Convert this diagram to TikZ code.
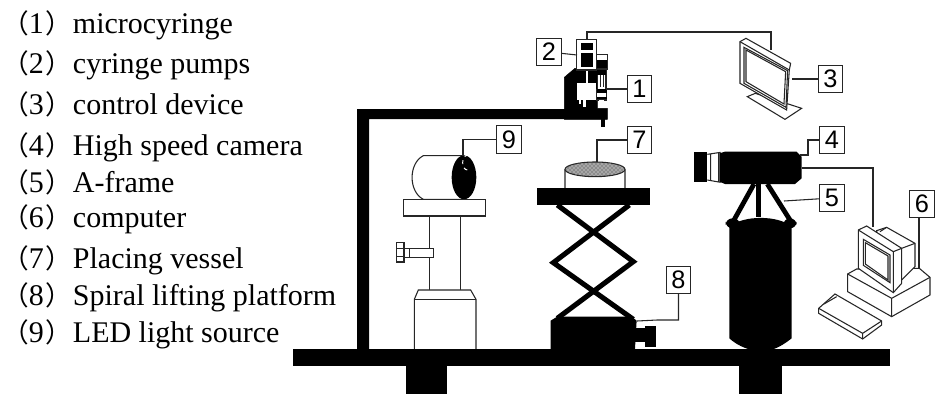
\documentclass[tikz,border=0pt]{standalone}
\usepackage{fontspec}
\setmainfont{Liberation Serif}
\newfontfamily\cjk{Noto Sans CJK SC}
\newfontfamily\labelfont{Liberation Sans}
\usepackage{xcolor}
\usetikzlibrary{patterns,calc}
\tikzset{
  blackpart/.style={fill=black,draw=black,line width=0.4pt},
  thinline/.style={draw=black!85,line width=0.8pt},
  whitepart/.style={fill=white,draw=black!85,line width=0.8pt},
  labelbox/.style={draw=black!85,fill=white,line width=0.8pt,inner sep=0pt,minimum width=18.5pt,minimum height=20.5pt,font=\labelfont\fontsize{19}{19}\selectfont},
  legendtext/.style={anchor=base west,inner sep=0pt,font=\fontsize{22.5}{24}\selectfont}
}

\begin{document}
\begin{tikzpicture}[x=0.75pt,y=-0.75pt]
    \useasboundingbox (0,0) rectangle (935,394);
    % Legend
    \foreach \n/\y/\t in {1/33/microcyringe,2/73/cyringe pumps,3/114/control device,4/155/High speed camera,5/192/A-frame,6/227/computer,7/268/Placing vessel,8/305/Spiral lifting platform,9/342/LED light source}
      \node[legendtext] (item\n) at (2,\y) {\makebox[53pt][l]{{\cjk\fontsize{20}{20}\selectfont （}\n\kern1pt{\cjk\fontsize{20}{20}\selectfont ）}}\t};
    % Bench and feet
    \fill (293,349) rectangle (890,366);
    \fill (406,366) rectangle (447,394);
    \fill (739,366) rectangle (782,394);
    % Support arm
    \fill (357,349) -- (357,109) -- (607,109) -- (607,119) -- (369,119) -- (369,349) -- cycle;
    % Syringe pump head
    \begin{scope}[shift={(520,0)},scale=0.3333]
      \draw[blackpart] (133,232) -- (165,205) -- (232,205) -- (232,325) -- (262,325) -- (262,358) -- (133,358) -- cycle;
      \fill (243,355) rectangle (254,382);
      \fill[white] (172,250) rectangle (228,300);
      \fill[white] (176,300) rectangle (182,312);
      \fill[white] (190,300) rectangle (198,322);
      \draw[white,line width=1.5pt] (200,210) -- (200,250);
      \draw[whitepart] (230,163) rectangle (262,207);
      \fill (232,180) rectangle (260,207);
      \draw[whitepart] (233,207) rectangle (258,268);
      \draw[thinline] (241,225) -- (241,262) (250,225) -- (250,262);
      \fill (232,210) rectangle (259,225);
      \draw[whitepart] (230,268) rectangle (260,300);
      \fill (230,268) rectangle (260,280);
      \fill (230,290) rectangle (260,298);
      \fill[white] (238,300) rectangle (252,325);
      \draw[whitepart] (170,118) rectangle (230,210);
      \fill (182,130) rectangle (218,150);
      \fill (182,160) rectangle (218,200);
    \end{scope}
    % Control device screen
    \begin{scope}[shift={(520,0)},scale=0.3333]
      \draw[thinline,fill=white] (682,290) -- (706,280) -- (845,325) -- (795,358) -- cycle;
      \draw[thinline,fill=white] (660,125) -- (678,115) -- (812,190) -- (808,210) -- (800,330) -- (660,250) -- cycle;
      \draw[thinline] (660,125) -- (808,210);
      \draw[thinline] (678,150) -- (797,215) -- (792,312) -- (678,245) -- cycle;
      \draw[thinline] (672,142) -- (803,212) -- (798,322) -- (672,250) -- cycle;
    \end{scope}
    % LED light source
    \begin{scope}[shift={(350,110)},scale=0.3333]
      \draw[thinline] (340,137) -- (220,137) .. controls (175,160) and (175,245) .. (220,268) -- (340,268);
      \fill (342,202) ellipse (37 and 66);
      \draw[white,dashed,line width=0.7pt] (352,180) arc (90:270:14 and 22);
      \draw[whitepart] (160,268) rectangle (406,318);
      \draw[thinline] (238,318) -- (238,540) (331,318) -- (331,540);
      \draw[whitepart] (162,415) rectangle (250,442);
      \draw[thinline] (178,415) -- (178,442);
      \draw[whitepart] (140,397) rectangle (162,456);
      \draw[thinline] (140,415) -- (162,415) (140,440) -- (162,440);
      \fill[white] (239,419) rectangle (248,438);
      \draw[whitepart] (193,717) -- (193,568) -- (205,540) -- (362,540) -- (378,568) -- (378,717);
      \draw[thinline] (193,568) -- (378,568);
    \end{scope}
    % Lifting platform and placing vessel
    \begin{scope}[shift={(350,110)},scale=0.3333]
      \draw[thinline] (645,178) -- (645,235) .. controls (690,252) and (780,252) .. (825,235) -- (825,178);
      \draw[thinline,fill=black!45] (735,178) ellipse (90 and 22);
      \fill[white,pattern=crosshatch dots,pattern color=white] (735,178) ellipse (88 and 20);
      \fill (562,235) rectangle (900,285);
      \draw[line width=3.8pt] (622,285) -- (850,455) -- (622,625);
      \draw[line width=3.8pt] (838,285) -- (610,458) -- (850,628);
      \fill (602,632) -- (622,620) -- (845,620) -- (860,632) -- (855,717) -- (602,717) -- cycle;
      \fill (850,655) rectangle (885,695);
      \fill (885,648) rectangle (918,712);
    \end{scope}
    % Camera on A-frame
    \begin{scope}[shift={(680,120)},scale=0.3333]
      \fill (43,95) rectangle (82,187);
      \draw[thinline] (82,103) -- (122,97) (82,180) -- (122,187) (92,103) -- (92,180) (116,100) -- (116,183);
      \fill (118,100) -- (135,95) -- (350,95) -- (365,110) -- (365,175) -- (345,192) -- (135,192) -- (118,185) -- cycle;
      \draw[line width=3.6pt] (222,192) -- (162,300);
      \draw[line width=3.6pt] (235,192) -- (235,290);
      \draw[line width=3.6pt] (262,192) -- (330,300);
      \fill (148,655) -- (148,320) .. controls (190,285) and (295,285) .. (335,320) -- (335,655) .. controls (310,675) and (290,685) .. (272,690) -- (215,690) .. controls (195,685) and (170,675) .. (148,655) -- cycle;
      \fill[rounded corners=5pt] (137,295) rectangle (180,325);
      \fill[rounded corners=5pt] (310,295) rectangle (350,325);
    \end{scope}
    % Computer
    \begin{scope}[shift={(680,120)},scale=0.3333]
      \draw[thinline,fill=white] (503,462) -- (530,447) -- (718,445) -- (750,472) -- (750,525) -- (635,590) -- (503,515) -- cycle;
      \draw[thinline] (503,462) -- (635,535) -- (750,472) (635,535) -- (635,590);
      \draw[thinline,fill=white] (590,332) -- (620,322) -- (705,370) -- (705,440) -- (665,480) -- (600,440) -- cycle;
      \draw[thinline] (620,322) -- (600,335);
      \draw[thinline] (665,385) -- (705,370);
      \draw[thinline,fill=white] (535,330) -- (560,318) -- (665,385) -- (665,490) -- (640,518) -- (535,445) -- cycle;
      \draw[thinline] (535,330) -- (640,395) -- (640,518) (640,395) -- (665,385);
      \draw[thinline] (550,358) -- (630,405) -- (630,488) -- (550,436) -- cycle;
      \draw[thinline] (556,368) -- (624,408) -- (624,480) -- (556,432) -- cycle;
      \draw[thinline,fill=white] (416,565) -- (465,522) -- (605,603) -- (605,615) -- (548,657) -- (416,580) -- cycle;
      \draw[thinline] (416,565) -- (548,640) -- (605,603) (548,640) -- (548,657) (432,552) -- (470,530);
    \end{scope}
    % Named ends of the connectors
    \coordinate (pumpside) at (577,55);
    \coordinate (pumptop) at (587,39);
    \coordinate (linktop) at (680,32);
    \coordinate (screentop) at (771,50);
    \coordinate (syringe) at (606,89);
    \coordinate (screenside) at (792,79);
    \coordinate (bendcam) at (808,155);
    \coordinate (camtop) at (800,155);
    \coordinate (camside) at (802,168);
    \coordinate (pcscreen) at (873,227);
    \coordinate (frameleg) at (784,201);
    \coordinate (pctower) at (919,268);
    \coordinate (vesseltop) at (597,162);
    \coordinate (ledtop) at (463,156);
    \coordinate (bend8) at (657,320);
    \coordinate (knobtop) at (637,321);
    % Labels
    \node[labelbox] (lab1) at (639.5,89) {1};
    \node[labelbox] (lab2) at (549,52) {2};
    \node[labelbox] (lab3) at (830.5,79) {3};
    \node[labelbox] (lab4) at (832,140) {4};
    \node[labelbox] (lab5) at (832,198) {5};
    \node[labelbox] (lab6) at (922,204) {6};
    \node[labelbox] (lab7) at (639.5,140) {7};
    \node[labelbox] (lab8) at (678.5,280) {8};
    \node[labelbox] (lab9) at (509,139.5) {9};
    % Connectors
    \draw[thinline] (lab1) -- (syringe);
    \draw[thinline] (lab2) -- (pumpside);
    \draw[thinline] (pumptop) |- (linktop) -| (screentop);
    \draw[thinline] (lab3) -- (screenside);
    \draw[thinline] (lab4.west) -| (bendcam) -- (camtop);
    \draw[thinline] (lab5) -- (frameleg);
    \draw[thinline] (camside) -| (pcscreen);
    \draw[thinline] (lab6.south -| pctower) -- (pctower);
    \draw[thinline] (lab7.west) -| (vesseltop);
    \draw[thinline] (lab8.south) |- (bend8) -- (knobtop);
    \draw[thinline] (lab9.west) -| (ledtop);
\end{tikzpicture}
\end{document}
